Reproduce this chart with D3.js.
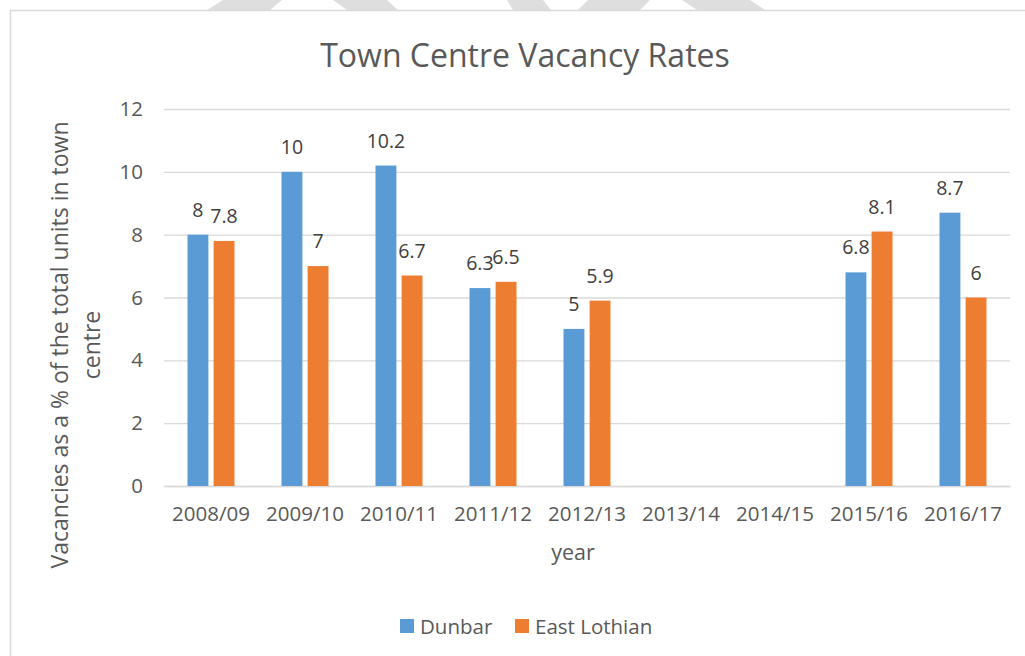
<!DOCTYPE html>
<html>
<head>
<meta charset="utf-8">
<script src="https://cdn.jsdelivr.net/npm/d3@7"></script>
<style>
  html, body { margin: 0; padding: 0; background: #fff; }
  svg { display: block; }
  text { font-family: "Open Sans", "Noto Sans", sans-serif; fill: #595959; }
</style>
</head>
<body>
<svg id="chart" width="1025" height="656"></svg>
<script>
// Town centre vacancy rates, Dunbar vs East Lothian
const years = ["2008/09", "2009/10", "2010/11", "2011/12", "2012/13", "2013/14", "2014/15", "2015/16", "2016/17"];
const seriesNames = ["Dunbar", "East Lothian"];
const dunbar = [8, 10, 10.2, 6.3, 5, null, null, 6.8, 8.7];
const eastLothian = [7.8, 7, 6.7, 6.5, 5.9, null, null, 8.1, 6];
const yTicks = [0, 2, 4, 6, 8, 10, 12];
const colors = ["#5B9BD5", "#ED7D31"];

const svg = d3.select("#chart");
const W = 1025, H = 656;
const margin = { left: 164, right: 15, top: 109, bottom: 170 };

// background ornaments along the top edge
const ornaments = [
  [[223, 0], [282, 0], [270, 10], [207, 10]],
  [[333, 0], [387, 0], [398, 10], [347, 10]],
  [[507, 0], [543, 0], [551, 10], [513, 10]],
  [[588, 0], [650, 0], [640, 10], [578, 10]],
  [[682, 0], [750, 0], [765, 10], [697, 10]]
];
svg.selectAll("polygon.orn").data(ornaments).join("polygon")
  .attr("class", "orn")
  .attr("points", d => d.map(p => p.join(",")).join(" "))
  .attr("fill", "#dedede");

// chart frame
svg.append("rect")
  .attr("x", 10.5).attr("y", 10.5)
  .attr("width", W + 20).attr("height", H + 20)
  .attr("fill", "none").attr("stroke", "#d9d9d9").attr("stroke-width", 1.5);

const x0 = d3.scaleBand().domain(years).range([margin.left, W - margin.right]).padding(0);
const bw = x0.bandwidth();
const x1 = d3.scaleBand().domain(seriesNames).range([bw * 0.25, bw * 0.75]).paddingInner(0.2);
const y = d3.scaleLinear().domain([0, 12]).range([H - margin.bottom, margin.top]);

// gridlines + y labels
const yAxis = d3.axisLeft(y).tickValues(yTicks).tickSize(-(W - margin.right - margin.left)).tickPadding(21).tickFormat(d3.format("d"));
const gy = svg.append("g").attr("transform", `translate(${margin.left},0)`).call(yAxis);
gy.select(".domain").remove();
gy.selectAll(".tick line").attr("stroke", "#d9d9d9").attr("stroke-width", 1.3);
gy.selectAll(".tick text").attr("font-size", 20.5).style("fill", "#595959");

// x axis
const xAxis = d3.axisBottom(x0).tickSize(0).tickPadding(20);
const gx = svg.append("g").attr("transform", `translate(0,${y(0)})`).call(xAxis);
gx.select(".domain").attr("stroke", "#d9d9d9").attr("stroke-width", 1.3);
gx.selectAll(".tick text").attr("font-size", 20.5).style("fill", "#595959");

// bars and labels
const rows = years.map((yr, i) => ({ year: yr, values: [dunbar[i], eastLothian[i]] }));
const groups = svg.append("g").selectAll("g").data(rows).join("g")
  .attr("transform", d => `translate(${x0(d.year)},0)`);

const cells = groups.selectAll("g.cell")
  .data(d => d.values.map((v, k) => ({ name: seriesNames[k], value: v, k })).filter(c => c.value != null))
  .join("g").attr("class", "cell");

cells.append("rect")
  .attr("x", d => x1(d.name))
  .attr("width", x1.bandwidth())
  .attr("y", d => y(d.value))
  .attr("height", d => y(0) - y(d.value))
  .attr("fill", d => colors[d.k]);

cells.append("text")
  .attr("x", d => x1(d.name) + x1.bandwidth() / 2)
  .attr("y", d => y(d.value) - 18)
  .attr("text-anchor", "middle")
  .attr("font-size", 19.5)
  .style("fill", "#404040")
  .text(d => d.value);

// title
svg.append("text")
  .attr("x", 525).attr("y", 67)
  .attr("text-anchor", "middle")
  .attr("font-size", 32)
  .text("Town Centre Vacancy Rates");

// axis titles
svg.append("text")
  .attr("x", 573).attr("y", 560)
  .attr("text-anchor", "middle")
  .attr("font-size", 21.5)
  .text("year");

const yt = svg.append("text")
  .attr("transform", "translate(68,345) rotate(-90)")
  .attr("text-anchor", "middle")
  .attr("font-size", 23);
yt.append("tspan").attr("x", 0).attr("y", 0).text("Vacancies as a % of the total units in town");
yt.append("tspan").attr("x", 0).attr("y", 32).text("centre");

// legend
const legendX = [400, 515];
const lg = svg.append("g").selectAll("g").data(seriesNames).join("g")
  .attr("transform", (d, i) => `translate(${legendX[i]},619)`);
lg.append("rect").attr("width", 14).attr("height", 14).attr("fill", (d, i) => colors[i]);
lg.append("text").attr("x", 20).attr("y", 14.5).attr("font-size", 20.5).text(d => d);
</script>
</body>
</html>
